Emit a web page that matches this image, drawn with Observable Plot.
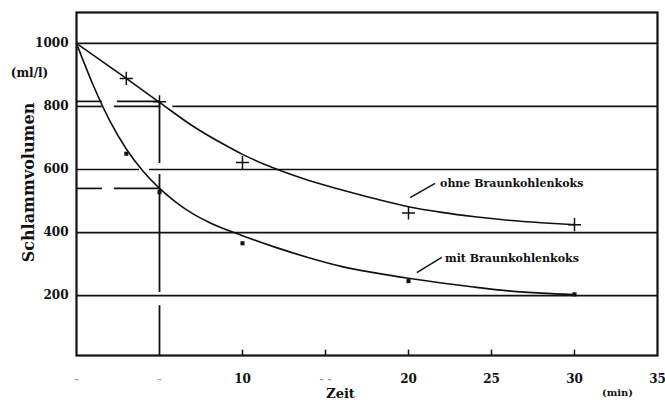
<!DOCTYPE html>
<html>
<head>
<meta charset="utf-8">
<script src="https://cdn.jsdelivr.net/npm/d3@7"></script>
<script src="https://cdn.jsdelivr.net/npm/@observablehq/plot@0.6"></script>
<style>
  html, body { margin: 0; padding: 0; background: #fff; }
  #chart { width: 665px; height: 400px; }
</style>
</head>
<body>
<div id="chart"></div>
<script>
// ---- data ----
const xTicks = [10, 20, 25, 30, 35];
const xTickMarks = [10, 15, 20, 25, 30];
const faintTicks = [{x: 0, t: "-"}, {x: 5, t: "-"}, {x: 15, t: "- -"}];
const yTicks = [200, 400, 600, 800, 1000];

// fitted curve "ohne Braunkohlenkoks"
const ohneCurveX = [0, 3, 5, 7, 9, 10, 12, 14, 16, 18, 20, 22, 24, 26, 28, 30];
const ohneCurveY = [1000, 889, 813, 738, 676, 648, 602, 565, 535, 507, 482, 464, 450, 439, 431, 425];
// measured points "ohne" (+)
const ohneObsX = [3, 5, 10, 20, 30];
const ohneObsY = [889, 815, 622, 462, 425];

// fitted curve "mit Braunkohlenkoks"
const mitCurveX = [0, 1, 2, 3, 4, 5, 6, 7, 8, 10, 12, 14, 16, 18, 20, 22, 24, 26, 28, 30];
const mitCurveY = [1000, 868, 755, 665, 595, 540, 496, 460, 432, 390, 353, 320, 292, 272, 255, 240, 227, 215, 208, 203];
// measured points "mit" (squares)
const mitObsX = [3, 5, 10, 20, 30];
const mitObsY = [650, 528, 366, 246, 204];

// reading guides drawn on the original
const gridSegs = [
  {y: 1000, x1: 0, x2: 35},
  {y: 800, x1: 0, x2: 1.56}, {y: 800, x1: 2.28, x2: 5}, {y: 800, x1: 5.8, x2: 35},
  {y: 600, x1: 0, x2: 3.8}, {y: 600, x1: 4.4, x2: 35},
  {y: 400, x1: 0, x2: 35},
  {y: 200, x1: 0, x2: 35}
];
const guideH = [
  {y: 816, x1: 0, x2: 1.56}, {y: 816, x1: 2.46, x2: 5},
  {y: 540, x1: 0, x2: 1.56}, {y: 540, x1: 2.28, x2: 5}
];
const guideV = [
  {x: 5, y1: 816, y2: 619}, {x: 5, y1: 584, y2: 210}, {x: 5, y1: 168, y2: 10}
];

// annotations (data coordinates)
const labels = ["ohne Braunkohlenkoks", "mit Braunkohlenkoks"];
const leaderX1 = [20.1, 20.5];
const leaderY1 = [511, 273];
const leaderX2 = [21.6, 22.0];
const leaderY2 = [556, 321];
const labelX = [21.9, 22.2];
const labelY = [557, 318];

// ---- build tables ----
const ohneCurve = ohneCurveX.map((x, i) => ({x, y: ohneCurveY[i]}));
const mitCurve = mitCurveX.map((x, i) => ({x, y: mitCurveY[i]}));
const ohneObs = ohneObsX.map((x, i) => ({x, y: ohneObsY[i]}));
const mitObs = mitObsX.map((x, i) => ({x, y: mitObsY[i]}));
const leaders = labels.map((t, i) => ({x1: leaderX1[i], y1: leaderY1[i], x2: leaderX2[i], y2: leaderY2[i]}));
const annots = labels.map((t, i) => ({t, x: labelX[i], y: labelY[i]}));

const ink = "#111";
const font = "'DejaVu Serif', 'Liberation Serif', serif";

const chart = Plot.plot({
  width: 665,
  height: 400,
  marginLeft: 76,
  marginRight: 8,
  marginTop: 12,
  marginBottom: 45,
  x: {domain: [0, 35]},
  y: {domain: [10, 1098]},
  style: {fontFamily: font, fontWeight: "bold", fontSize: "12px", background: "#fff", color: ink},
  marks: [
    Plot.ruleY(gridSegs, {y: "y", x1: "x1", x2: "x2", stroke: ink, strokeWidth: 1.7}),
    Plot.ruleY(guideH, {y: "y", x1: "x1", x2: "x2", stroke: ink, strokeWidth: 1.7}),
    Plot.ruleX(guideV, {x: "x", y1: "y1", y2: "y2", stroke: ink, strokeWidth: 1.8}),
    Plot.ruleX(xTickMarks, {x: d => d, y1: 10, y2: 27, stroke: ink, strokeWidth: 1.5}),
    Plot.frame({stroke: ink, strokeWidth: 2.2}),
    Plot.line(ohneCurve, {x: "x", y: "y", curve: "monotone-x", stroke: ink, strokeWidth: 1.6}),
    Plot.line(mitCurve, {x: "x", y: "y", curve: "monotone-x", stroke: ink, strokeWidth: 1.6}),
    Plot.dot(ohneObs, {x: "x", y: "y", symbol: "plus", r: 4.3, stroke: ink, strokeWidth: 1.5}),
    Plot.dot(mitObs, {x: "x", y: "y", symbol: "square", r: 2.3, fill: ink, stroke: "none"}),
    Plot.link(leaders, {x1: "x1", y1: "y1", x2: "x2", y2: "y2", stroke: ink, strokeWidth: 1.5}),
    Plot.text(annots, {x: "x", y: "y", text: "t", textAnchor: "start", fontSize: 11, fill: ink}),
    Plot.axisY({ticks: yTicks, tickSize: 0, tickPadding: 8, tickFormat: d3.format("d"), label: null, fontSize: 12}),
    Plot.axisX({ticks: xTicks, tickSize: 0, tickPadding: 19, tickFormat: d3.format("d"), label: null, fontSize: 12}),
    Plot.text(faintTicks, {x: "x", text: "t", frameAnchor: "bottom", dy: 26, fill: "#999", fontSize: 10}),
    Plot.text(["Schlammvolumen"], {text: d => d, frameAnchor: "top-left", dx: -48, dy: 170, rotate: -90, fontSize: 16, textAnchor: "middle", lineAnchor: "middle", fill: ink}),
    Plot.text(["(ml/l)"], {text: d => d, frameAnchor: "top-left", dx: -47, dy: 61, fontSize: 12, textAnchor: "middle", lineAnchor: "middle", fill: ink}),
    Plot.text(["Zeit"], {text: d => d, frameAnchor: "bottom-left", dx: 264, dy: 38, fontSize: 13, textAnchor: "middle", lineAnchor: "middle", fill: ink}),
    Plot.text(["(min)"], {text: d => d, frameAnchor: "bottom-left", dx: 541, dy: 37, fontSize: 10, textAnchor: "middle", lineAnchor: "middle", fill: ink})
  ]
});
document.getElementById("chart").appendChild(chart);
</script>
</body>
</html>
